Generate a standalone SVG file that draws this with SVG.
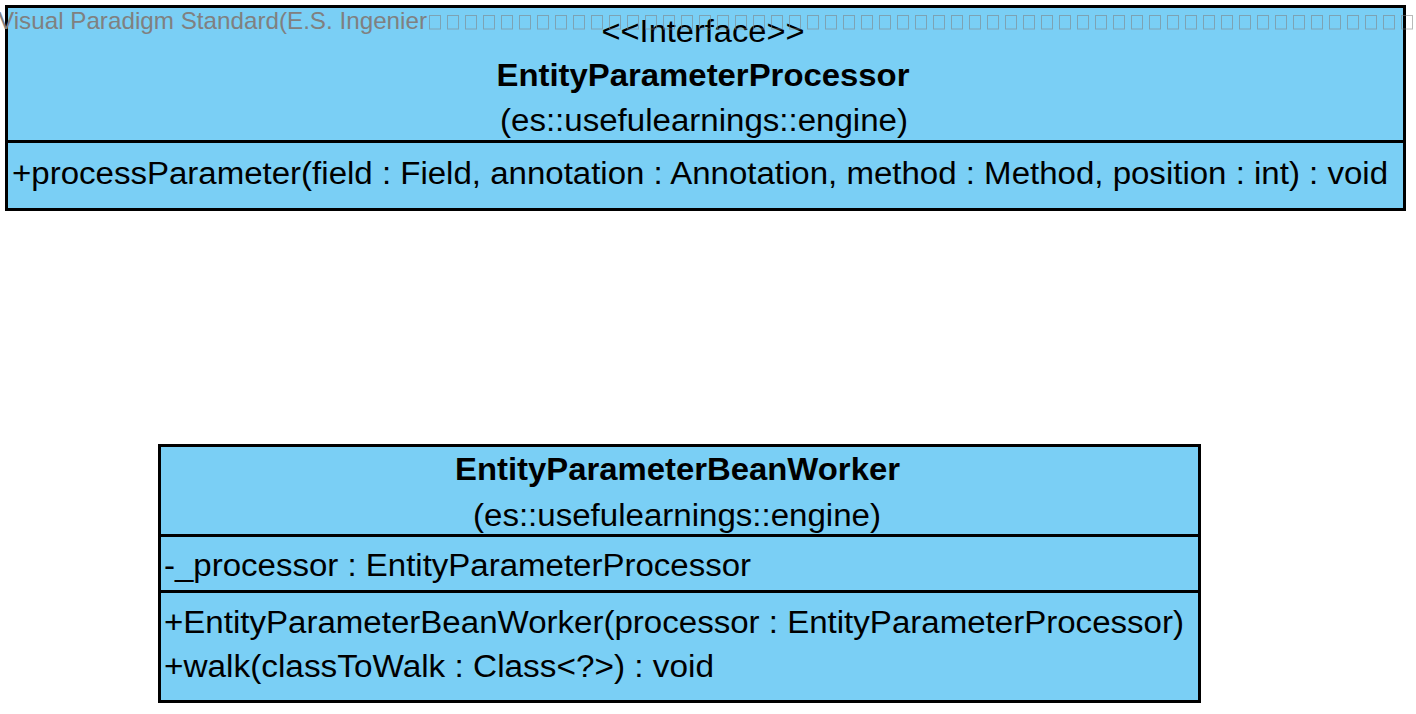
<svg xmlns="http://www.w3.org/2000/svg" width="1416" height="714" viewBox="0 0 1416 714">
  <defs>
    <style>
      .cls { fill: #7ACFF5; stroke: #000; stroke-width: 3; }
      .sep { stroke: #000; stroke-width: 3; }
      .t { font-family: "Liberation Sans", Arial, sans-serif; font-size: 31px; fill: #000; }
      .b { font-weight: bold; }
      .wm { font-family: "Liberation Sans", Arial, sans-serif; font-size: 24px; fill: #808080; }
    </style>
    <!-- placeholder boxes for glyphs the watermark font could not show -->
    <pattern id="tofu" x="429" y="15" width="18" height="15" patternUnits="userSpaceOnUse">
      <rect x="0.5" y="0.5" width="11" height="13.5" fill="none" stroke="#808080" stroke-opacity="0.55" stroke-width="1"/>
    </pattern>
  </defs>
  <rect width="1416" height="714" fill="#fff"/>

  <!-- interface class -->
  <g id="EntityParameterProcessor">
    <rect class="cls" x="6.5" y="6.5" width="1398" height="203"/>
    <line class="sep" x1="6.5" y1="141.5" x2="1404.5" y2="141.5"/>
    <text class="t" x="703" y="42" text-anchor="middle" textLength="203" lengthAdjust="spacingAndGlyphs">&lt;&lt;Interface&gt;&gt;</text>
    <text class="t b" x="703" y="86" text-anchor="middle" textLength="413" lengthAdjust="spacingAndGlyphs">EntityParameterProcessor</text>
    <text class="t" x="704" y="131" text-anchor="middle" textLength="408" lengthAdjust="spacingAndGlyphs">(es::usefulearnings::engine)</text>
    <text class="t" x="12" y="184" textLength="1376" lengthAdjust="spacingAndGlyphs">+processParameter(field : Field, annotation : Annotation, method : Method, position : int) : void</text>
  </g>

  <!-- implementing class -->
  <g id="EntityParameterBeanWorker">
    <rect class="cls" x="159.5" y="445.5" width="1040" height="256"/>
    <line class="sep" x1="159.5" y1="535.5" x2="1199.5" y2="535.5"/>
    <line class="sep" x1="159.5" y1="591.5" x2="1199.5" y2="591.5"/>
    <text class="t b" x="677.5" y="480" text-anchor="middle" textLength="445" lengthAdjust="spacingAndGlyphs">EntityParameterBeanWorker</text>
    <text class="t" x="677" y="526" text-anchor="middle" textLength="408" lengthAdjust="spacingAndGlyphs">(es::usefulearnings::engine)</text>
    <text class="t" x="164" y="576" textLength="587" lengthAdjust="spacingAndGlyphs">-_processor : EntityParameterProcessor</text>
    <text class="t" x="164" y="633" textLength="1020" lengthAdjust="spacingAndGlyphs">+EntityParameterBeanWorker(processor : EntityParameterProcessor)</text>
    <text class="t" x="164" y="677" textLength="550" lengthAdjust="spacingAndGlyphs">+walk(classToWalk : Class&lt;?&gt;) : void</text>
  </g>

  <g id="connectors"/>

  <!-- edition watermark -->
  <g id="watermark">
    <text class="wm" x="-2" y="29" textLength="429" lengthAdjust="spacingAndGlyphs">Visual Paradigm Standard(E.S. Ingenier</text>
    <rect x="429" y="15" width="990" height="15" fill="url(#tofu)"/>
  </g>
</svg>
